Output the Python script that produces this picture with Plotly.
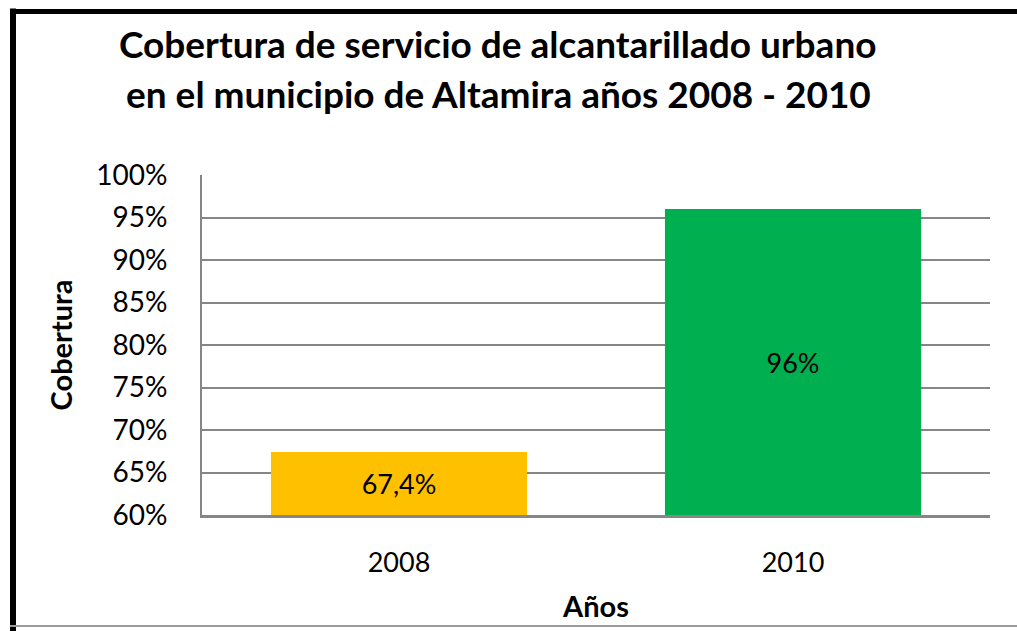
import plotly.graph_objects as go

years = ["2008", "2010"]
coverage = [67.4, 96]
labels = ["67,4%", "96%"]
colors = ["#FFC000", "#00B050"]
y_ticks = [60, 65, 70, 75, 80, 85, 90, 95, 100]
y_ticktext = [f"{v}%" for v in y_ticks]
axis_min = 60

W, H = 1017, 631
L, R, T, B = 202, 27, 175, 113
pw, ph = W - L - R, H - T - B

def px_x(p):
    return (p - L) / pw

def px_y(p):
    return (H - B - p) / ph

font_family = "Lato, 'Open Sans', sans-serif"

fig = go.Figure(go.Bar(
    x=years, y=[v - axis_min for v in coverage], base=axis_min,
    marker_color=colors, marker_line_width=0,
    text=labels, textposition="inside", insidetextanchor="middle",
    textfont=dict(size=27, color="#000000", family=font_family),
    width=0.65, hoverinfo="skip",
))

fig.update_layout(
    width=W, height=H,
    margin=dict(l=L, r=R, t=T, b=B),
    paper_bgcolor="white", plot_bgcolor="white",
    showlegend=False,
    font=dict(family=font_family, color="#000000"),
    xaxis=dict(
        showgrid=False, showline=True, linecolor="#868686", linewidth=3,
        tickfont=dict(size=27), ticks="", ticklabelstandoff=22,
        title=dict(text="<b>Años</b>", font=dict(size=29), standoff=20),
    ),
    yaxis=dict(
        range=[60, 100], tickvals=y_ticks, ticktext=y_ticktext,
        showgrid=True, gridcolor="#868686", gridwidth=2,
        showline=True, linecolor="#868686", linewidth=2,
        tickfont=dict(size=28), ticks="", ticklabelstandoff=27,
        zeroline=False,
        title=dict(text="<b>Cobertura</b>", font=dict(size=29), standoff=15),
    ),
    annotations=[
        dict(text="<b>Cobertura de servicio de alcantarillado urbano</b>",
             xref="paper", yref="paper", x=px_x(498), y=px_y(42),
             showarrow=False, font=dict(size=37), xanchor="center", yanchor="middle"),
        dict(text="<b>en el municipio de Altamira años 2008 - 2010</b>",
             xref="paper", yref="paper", x=px_x(498), y=px_y(93),
             showarrow=False, font=dict(size=37), xanchor="center", yanchor="middle"),
    ],
    shapes=[
        dict(type="line", xref="paper", yref="paper", x0=px_x(13), x1=px_x(13),
             y0=px_y(7), y1=px_y(640), line=dict(color="#000000", width=6)),
        dict(type="line", xref="paper", yref="paper", x0=px_x(10), x1=px_x(1017),
             y0=px_y(10), y1=px_y(10), line=dict(color="#000000", width=5)),
        dict(type="line", xref="paper", yref="paper", x0=px_x(10), x1=px_x(1017),
             y0=px_y(630), y1=px_y(630), line=dict(color="#9a9a9a", width=2)),
    ],
)

fig.write_html("out.html", config={"displayModeBar": False},
               post_script="document.body.style.margin='0';")
